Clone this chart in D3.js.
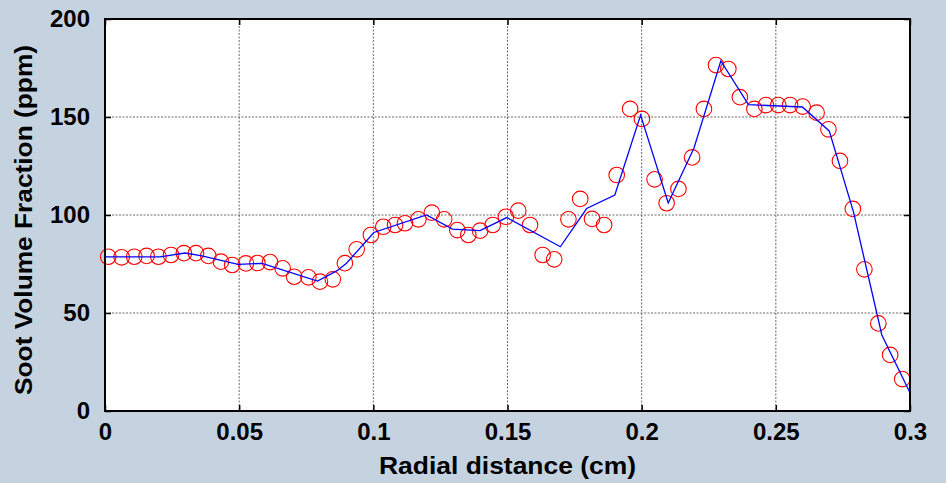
<!DOCTYPE html>
<html>
<head>
<meta charset="utf-8">
<script src="https://cdn.jsdelivr.net/npm/d3@7"></script>
<style>
  body { margin: 0; background: #c5d3e0; }
  svg { display: block; font-family: Arial, "Liberation Sans", sans-serif; font-weight: bold; }
</style>
</head>
<body>
<svg id="chart"></svg>
<script>
const width = 946;
const height = 483;
const margin = {top: 19, right: 36, bottom: 72, left: 105};

// measured points (red circles)
const expX = [0.0012, 0.0062, 0.0109, 0.0155, 0.0199, 0.0246, 0.0294, 0.0339, 0.0385, 0.0432,
              0.0474, 0.0525, 0.0568, 0.0615, 0.0662, 0.0705, 0.0758, 0.0801, 0.0849, 0.0894,
              0.0938, 0.0991, 0.1037, 0.1081, 0.1118, 0.1168, 0.1218, 0.1264, 0.1313, 0.1354,
              0.1398, 0.1445, 0.1494, 0.1540, 0.1584, 0.1631, 0.1674, 0.1727, 0.1771, 0.1815,
              0.1860, 0.1907, 0.1957, 0.2001, 0.2048, 0.2093, 0.2137, 0.2188, 0.2232, 0.2277,
              0.2323, 0.2366, 0.2420, 0.2463, 0.2509, 0.2553, 0.2600, 0.2652, 0.2696, 0.2739,
              0.2787, 0.2830, 0.2882, 0.2926, 0.2971];
const expY = [78.7, 78.4, 78.7, 79.1, 78.7, 79.6, 80.5, 80.5, 79.1, 76.2,
              74.5, 75.3, 75.5, 76.0, 72.8, 68.5, 68.2, 66.0, 67.2, 75.4,
              82.5, 89.8, 94.0, 94.9, 95.8, 97.8, 101.2, 97.8, 92.3, 89.8,
              92.0, 94.9, 99.1, 102.2, 94.9, 79.6, 77.4, 97.8, 108.2, 98.0,
              94.9, 120.4, 154.1, 149.0, 118.2, 106.0, 113.3, 129.4, 154.1, 176.5,
              174.5, 160.1, 154.1, 156.1, 156.1, 156.1, 155.3, 152.2, 143.7, 127.6,
              103.1, 72.3, 44.7, 28.6, 16.3];

// computed profile (blue line)
const simX = [0, 0.0205, 0.0298, 0.0361, 0.0496, 0.0585, 0.0792, 0.0865, 0.0900, 0.1002,
              0.1198, 0.1295, 0.1398, 0.1497, 0.1697, 0.1795, 0.1900, 0.1996, 0.2099, 0.2195,
              0.2295, 0.2398, 0.2599, 0.2699, 0.2789, 0.2895, 0.3];
const simY = [78.6, 78.6, 80.6, 79.1, 74.8, 75.3, 66.3, 71.6, 75.4, 91.1,
              100.0, 92.8, 92.0, 98.7, 83.8, 103.3, 110.2, 151.0, 106.1, 134.2,
              178.6, 156.3, 155.1, 142.9, 101.7, 38.8, 9.3];

const xTicks = [0, 0.05, 0.1, 0.15, 0.2, 0.25, 0.3];
const xTickLabels = ['0', '0.05', '0.1', '0.15', '0.2', '0.25', '0.3'];
const yTicks = [0, 50, 100, 150, 200];
const yTickLabels = ['0', '50', '100', '150', '200'];

const svg = d3.select('#chart').attr('width', width).attr('height', height);

const x = d3.scaleLinear().domain([0, 0.3]).range([margin.left, width - margin.right]);
const y = d3.scaleLinear().domain([0, 200]).range([height - margin.bottom, margin.top]);

const x0 = x.range()[0], x1 = x.range()[1];
const y0 = y.range()[0], y1 = y.range()[1];

svg.append('rect')
    .attr('x', x0).attr('y', y1)
    .attr('width', x1 - x0).attr('height', y0 - y1)
    .attr('fill', '#fff');

// grid
const grid = svg.append('g').attr('stroke', '#444').attr('stroke-width', 0.8).attr('stroke-dasharray', '2,1.5');
grid.selectAll('.gx').data(xTicks.slice(1, -1)).enter().append('line')
    .attr('x1', d => x(d)).attr('x2', d => x(d)).attr('y1', y1).attr('y2', y0);
grid.selectAll('.gy').data(yTicks.slice(1, -1)).enter().append('line')
    .attr('y1', d => y(d)).attr('y2', d => y(d)).attr('x1', x0).attr('x2', x1);

// axes, ticks inside, box on
const tickLen = 6;
const xAxisB = svg.append('g').attr('transform', `translate(0,${y0})`)
    .call(d3.axisBottom(x).tickValues(xTicks).tickSize(-tickLen).tickPadding(tickLen + 10)
        .tickFormat((d, i) => xTickLabels[i]));
const xAxisT = svg.append('g').attr('transform', `translate(0,${y1})`)
    .call(d3.axisTop(x).tickValues(xTicks).tickSize(-tickLen).tickFormat(''));
const yAxisL = svg.append('g').attr('transform', `translate(${x0},0)`)
    .call(d3.axisLeft(y).tickValues(yTicks).tickSize(-tickLen).tickPadding(tickLen + 9)
        .tickFormat((d, i) => yTickLabels[i]));
const yAxisR = svg.append('g').attr('transform', `translate(${x1},0)`)
    .call(d3.axisRight(y).tickValues(yTicks).tickSize(-tickLen).tickFormat(''));

[xAxisB, xAxisT, yAxisL, yAxisR].forEach(a => {
    a.selectAll('.domain').remove();
    a.selectAll('line').attr('stroke', '#000').attr('stroke-width', 1.5);
});
svg.selectAll('.tick text')
    .attr('fill', '#000')
    .style('font-size', '24px')
    .style('font-weight', 'bold')
    .style('font-family', 'Arial, "Liberation Sans", sans-serif');
xAxisB.selectAll('.tick text').attr('dy', '0.55em');

// measured circles
const pts = expX.map((d, i) => ({x: d, y: expY[i]}));
svg.append('g').selectAll('circle').data(pts).enter().append('circle')
    .attr('cx', d => x(d.x))
    .attr('cy', d => y(d.y))
    .attr('r', 7.8)
    .attr('fill', 'none')
    .attr('stroke', '#ff0000')
    .attr('stroke-width', 1.1);

// computed line
const line = d3.line().x(d => x(d.x)).y(d => y(d.y));
svg.append('path')
    .datum(simX.map((d, i) => ({x: d, y: simY[i]})))
    .attr('fill', 'none')
    .attr('stroke', '#0000ff')
    .attr('stroke-width', 1.3)
    .attr('d', line);

// box
svg.append('rect')
    .attr('x', x0).attr('y', y1)
    .attr('width', x1 - x0).attr('height', y0 - y1)
    .attr('fill', 'none').attr('stroke', '#000').attr('stroke-width', 2);

// labels
svg.append('text')
    .attr('x', (x0 + x1) / 2).attr('y', 474)
    .attr('text-anchor', 'middle')
    .style('font-size', '24px')
    .attr('textLength', 257).attr('lengthAdjust', 'spacingAndGlyphs')
    .text('Radial distance (cm)');

svg.append('text')
    .attr('transform', `translate(32,${(y0 + y1) / 2 + 5}) rotate(-90)`)
    .attr('text-anchor', 'middle')
    .style('font-size', '24px')
    .attr('textLength', 350).attr('lengthAdjust', 'spacingAndGlyphs')
    .text('Soot Volume Fraction (ppm)');
</script>
</body>
</html>
